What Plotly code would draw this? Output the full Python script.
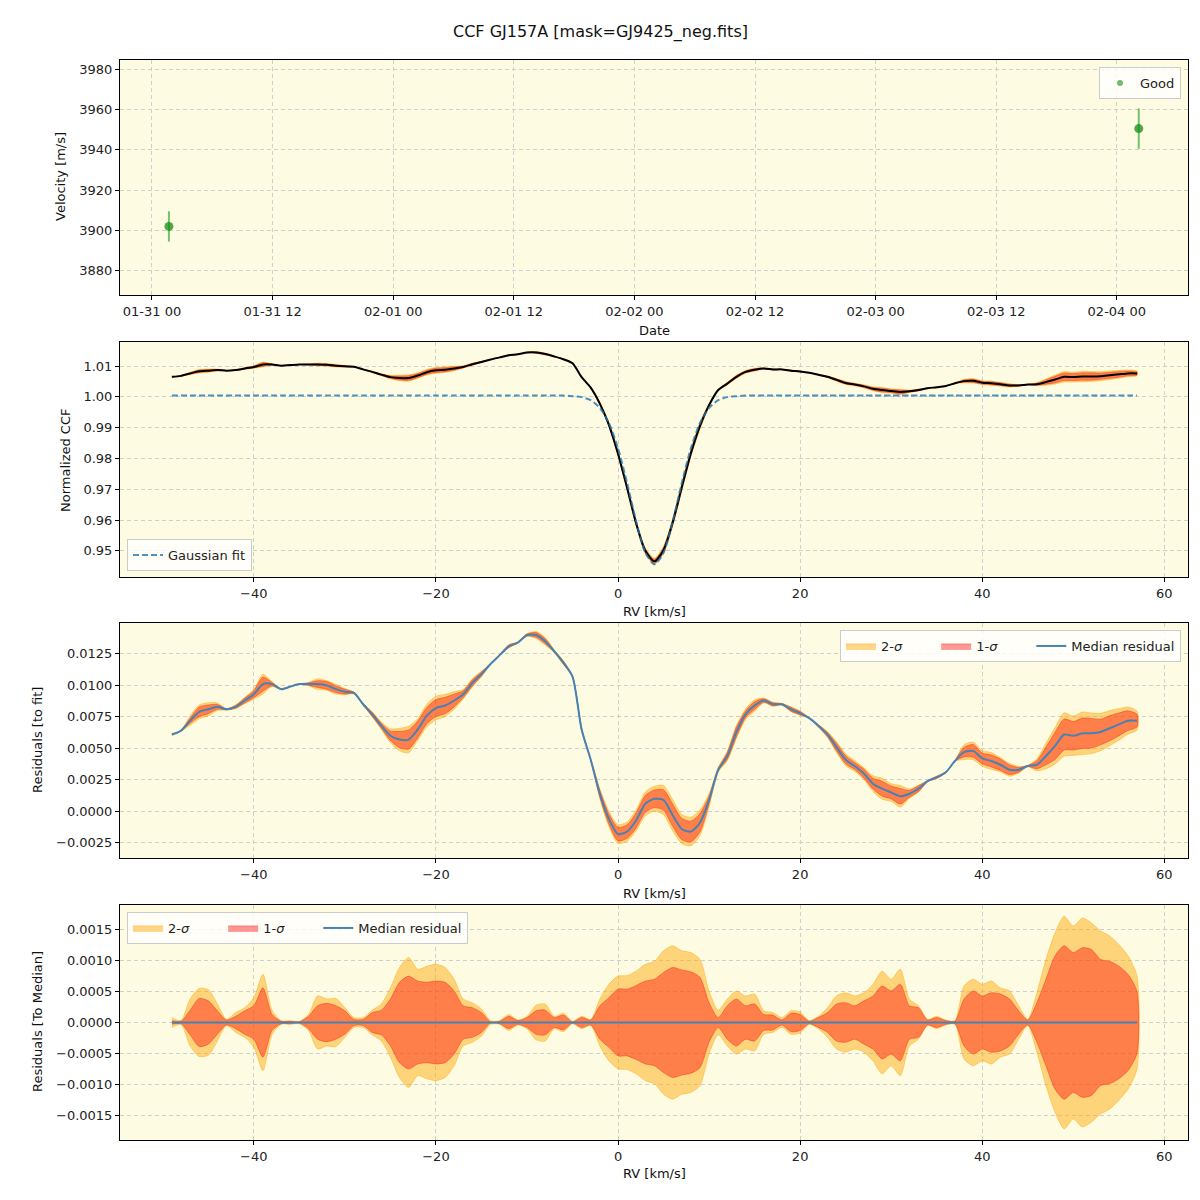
import numpy as np
import plotly.graph_objects as go

# ---------------- data ----------------
obs_dates = ["2023-01-31 01:41", "2023-02-04 02:11"]
obs_rv = [3902.0, 3950.5]
obs_err = [7.5, 10.0]

rv = list(range(-49, 58))

gauss_fit = [1.0004] * 43 + [
    1.0004, 1.0002, 0.9999, 0.9989, 0.9964, 0.9915,   # -6 .. -1
    0.9833, 0.9720, 0.9595, 0.9494, 0.9456, 0.9494,   # 0 .. 5
    0.9595, 0.9720, 0.9833, 0.9915, 0.9964, 0.9989,   # 6 .. 11
    0.9999, 1.0002] + [1.0004] * 44

median_resid = [
    0.0061, 0.0064, 0.0072, 0.0079, 0.0081, 0.0083, 0.0081, 0.0083, 0.0088, 0.0093,   # -49..-40
    0.0101, 0.0101, 0.0097, 0.0099, 0.0101, 0.0101, 0.0101, 0.0100, 0.0097, 0.0095,   # -39..-30
    0.0094, 0.0085, 0.0077, 0.0068, 0.0060, 0.0057, 0.0057, 0.0065, 0.0076, 0.0082,   # -29..-20
    0.0084, 0.0088, 0.0093, 0.0102, 0.0109, 0.0117, 0.0124, 0.0131, 0.0134, 0.0140,   # -19..-10
    0.0140, 0.0135, 0.0127, 0.0118, 0.0107, 0.0065, 0.0041, 0.0014, -0.0006, -0.0018, # -9..0
    -0.0016, -0.0007, 0.0006, 0.0010, 0.0009, -0.0003, -0.0014, -0.0016, -0.0009, 0.0009,  # 1..10
    0.0033, 0.0044, 0.0063, 0.0077, 0.0084, 0.0088, 0.0085, 0.0085, 0.0081, 0.0078,  # 11..20
    0.0074, 0.0068, 0.0061, 0.0051, 0.0041, 0.0036, 0.0030, 0.0022, 0.0018, 0.0015,  # 21..30
    0.0012, 0.0014, 0.0018, 0.0024, 0.0027, 0.0031, 0.0040, 0.0047, 0.0048, 0.0042,  # 31..40
    0.0040, 0.0037, 0.0033, 0.0033, 0.0036, 0.0037, 0.0044, 0.0052, 0.0061, 0.0060,  # 41..50
    0.0062, 0.0062, 0.0063, 0.0066, 0.0069, 0.0072, 0.0072]                          # 51..57

# half-widths of the percentile bands, in units of 1e-4
sigma1_e4 = [
    0.3, 0.2, 2.0, 3.9, 3.5, 1.9, 0.4, 1.0, 1.9, 2.7,
    5.6, 1.3, 0.2, 0.2, 0.1, 1.0, 2.7, 3.1, 2.7, 1.9,
    0.5, 0.5, 1.6, 2.0, 3.8, 6.5, 7.5, 6.7, 6.5, 6.7,
    6.5, 5.1, 2.7, 2.4, 1.6, 0.1, 0.2, 1.0, 0.3, 0.8,
    1.9, 2.0, 0.8, 1.2, 0.1, 0.8, 0.4, 2.7, 4.0, 5.4,
    5.4, 6.0, 6.7, 7.0, 8.1, 8.9, 8.5, 8.2, 7.3, 3.2,
    0.8, 2.7, 3.8, 2.7, 3.0, 1.3, 1.2, 0.4, 1.5, 1.3,
    0.2, 0.8, 1.6, 3.0, 3.2, 2.7, 3.5, 4.3, 5.9, 5.1,
    6.2, 2.7, 2.4, 0.4, 0.8, 0.3, 0.2, 3.8, 5.1, 4.3,
    4.8, 4.6, 3.8, 1.9, 0.4, 3.2, 7.0, 10.8, 12.4, 11.3,
    12.1, 11.8, 10.2, 9.9, 9.1, 7.8, 5.0]
sigma2_e4 = [
    0.8, 0.3, 3.8, 5.5, 5.3, 3.0, 0.5, 1.6, 2.4, 4.0,
    7.8, 2.0, 0.3, 0.3, 0.2, 1.3, 4.3, 3.8, 3.9, 2.4,
    0.8, 0.8, 2.0, 3.0, 5.6, 8.9, 10.5, 8.6, 9.1, 9.4,
    8.9, 7.0, 3.8, 3.2, 2.2, 0.3, 0.3, 1.3, 0.4, 1.0,
    2.8, 3.0, 1.0, 1.5, 0.2, 1.0, 0.5, 3.8, 6.2, 7.5,
    7.6, 8.3, 9.4, 9.9, 11.6, 12.4, 11.6, 11.3, 10.2, 5.1,
    2.0, 3.8, 5.1, 4.3, 4.6, 1.9, 1.6, 0.8, 1.9, 1.7,
    0.3, 1.0, 2.4, 4.3, 4.8, 4.3, 4.8, 6.2, 8.3, 7.0,
    8.6, 3.8, 2.7, 0.5, 1.0, 0.4, 0.3, 5.9, 7.0, 6.2,
    6.7, 5.6, 5.1, 2.7, 0.5, 4.8, 10.2, 14.5, 17.2, 15.6,
    16.9, 16.1, 14.8, 14.0, 12.6, 10.8, 7.5]

# ---------------- derived ----------------
x = np.array(rv, dtype=float)
fit = np.array(gauss_fit)
med = np.array(median_resid)
s1 = np.array(sigma1_e4) * 1e-4
s2 = np.array(sigma2_e4) * 1e-4
ccf = fit + med

BG = "#fdfbe1"
GRID = "#cfcfcf"
C2 = "rgba(255,165,0,0.45)"
C2L = "rgba(255,165,0,0.55)"
C1 = "rgba(255,0,0,0.40)"
C1L = "rgba(240,40,20,0.55)"
MEDC = "#4682b4"
FONT = "DejaVu Sans"
SM = 0.7
PAD = "\u00a0" * 7

fig = go.Figure()


def band(lo, hi, xa, ya, fillc, linec, name=None, legend=None, show=False):
    fig.add_trace(go.Scatter(
        x=np.concatenate([x, x[::-1]]), y=np.concatenate([hi, lo[::-1]]),
        fill="toself", fillcolor=fillc,
        line=dict(color=linec, width=0.8, shape="spline", smoothing=SM),
        mode="lines", xaxis=xa, yaxis=ya, name=name, showlegend=show,
        legend=legend, hoverinfo="skip"))


# Panel 1: velocities
fig.add_trace(go.Scatter(
    x=obs_dates, y=obs_rv, mode="markers",
    marker=dict(color="rgba(20,140,20,0.75)", size=9),
    error_y=dict(type="data", array=obs_err, color="rgba(0,150,0,0.55)",
                 thickness=2, width=0),
    xaxis="x", yaxis="y", showlegend=False))
fig.add_trace(go.Scatter(
    x=[None], y=[None], mode="markers", name="Good",
    marker=dict(color="rgba(0,128,0,0.55)", size=6),
    xaxis="x", yaxis="y", legend="legend", showlegend=True))

# Panel 2: CCF
band(ccf - s2, ccf + s2, "x2", "y2", C2, C2L)
band(ccf - s1, ccf + s1, "x2", "y2", C1, C1L)
fig.add_trace(go.Scatter(x=x, y=ccf, mode="lines",
                         line=dict(color="black", width=2, shape="spline", smoothing=SM),
                         xaxis="x2", yaxis="y2", showlegend=False))
fig.add_trace(go.Scatter(x=x, y=fit, mode="lines", name="Gaussian fit",
                         line=dict(color="rgba(31,119,180,0.8)", width=2, dash="6px,3px",
                                   shape="spline", smoothing=SM),
                         xaxis="x2", yaxis="y2", legend="legend2", showlegend=True))

# Panel 3: residuals to fit
band(med - s2, med + s2, "x3", "y3", C2, C2L, "2-<i>σ</i>" + PAD, "legend3", True)
band(med - s1, med + s1, "x3", "y3", C1, C1L, "1-<i>σ</i>" + PAD, "legend3", True)
fig.add_trace(go.Scatter(x=x, y=med, mode="lines", name="Median residual",
                         line=dict(color=MEDC, width=2, shape="spline", smoothing=SM),
                         xaxis="x3", yaxis="y3", legend="legend3", showlegend=True))

# Panel 4: residuals to median
zero = np.zeros_like(x)
band(-s2, s2, "x4", "y4", C2, C2L, "2-<i>σ</i>" + PAD, "legend4", True)
band(-s1, s1, "x4", "y4", C1, C1L, "1-<i>σ</i>" + PAD, "legend4", True)
fig.add_trace(go.Scatter(x=x, y=zero, mode="lines", name="Median residual",
                         line=dict(color=MEDC, width=2),
                         xaxis="x4", yaxis="y4", legend="legend4", showlegend=True))

H = 1200.0


def dom(top, bottom):
    return [1 - bottom / H, 1 - top / H]


axis_common = dict(showline=True, linecolor="black", linewidth=1, mirror=True,
                   ticks="outside", ticklen=4, tickcolor="black", automargin=False,
                   showgrid=True, gridcolor=GRID, griddash="4px,3px", gridwidth=1,
                   zeroline=False, tickfont=dict(family=FONT, size=13, color="#222"))

xdom = [120 / 1200, 1188 / 1200]
rvrange = [-54.7, 62.6]

legend_common = dict(bgcolor="rgba(255,255,255,0.8)", bordercolor="#cccccc", borderwidth=1,
                     font=dict(family=FONT, size=13, color="#222"), xref="paper", yref="paper")

fig.update_layout(
    width=1200, height=1200,
    margin=dict(l=0, r=0, t=0, b=0, autoexpand=False),
    paper_bgcolor="white", plot_bgcolor=BG,
    font=dict(family=FONT, size=13, color="#222"),
    xaxis=dict(axis_common, domain=xdom, anchor="y", type="date",
               range=["2023-01-30 20:49", "2023-02-04 07:05"],
               tick0="2023-01-31 00:00", dtick=43200000, tickformat="%m-%d %H"),
    yaxis=dict(axis_common, domain=dom(60, 295), anchor="x", range=[3868, 3984.5], dtick=20),
    xaxis2=dict(axis_common, domain=xdom, anchor="y2", range=rvrange, dtick=20, tick0=0),
    yaxis2=dict(axis_common, domain=dom(342, 577), anchor="x2", range=[0.9415, 1.0178],
                dtick=0.01, tickformat=".2f"),
    xaxis3=dict(axis_common, domain=xdom, anchor="y3", range=rvrange, dtick=20, tick0=0),
    yaxis3=dict(axis_common, domain=dom(623, 858), anchor="x3", range=[-0.0037, 0.01495],
                dtick=0.0025, tick0=0, tickformat=".4f"),
    xaxis4=dict(axis_common, domain=xdom, anchor="y4", range=rvrange, dtick=20, tick0=0),
    yaxis4=dict(axis_common, domain=dom(905, 1140), anchor="x4", range=[-0.0019, 0.0019],
                dtick=0.0005, tick0=0, tickformat=".4f"),
    legend=dict(legend_common, x=1181 / 1200, xanchor="right", y=1 - 67 / H, yanchor="top"),
    legend2=dict(legend_common, x=127 / 1200, xanchor="left", y=1 - 571 / H, yanchor="bottom"),
    legend3=dict(legend_common, x=1181 / 1200, xanchor="right", y=1 - 630 / H, yanchor="top",
                 orientation="h"),
    legend4=dict(legend_common, x=127 / 1200, xanchor="left", y=1 - 912 / H, yanchor="top",
                 orientation="h"),
    showlegend=True,
)

annots = [
    ("CCF GJ157A [mask=GJ9425_neg.fits]", 600, 32, 0, 16),
    ("Date", 654, 330, 0, 13),
    ("RV [km/s]", 654, 611, 0, 13),
    ("RV [km/s]", 654, 893, 0, 13),
    ("RV [km/s]", 654, 1173, 0, 13),
    ("Velocity [m/s]", 61, 177, -90, 13),
    ("Normalized CCF", 66, 460, -90, 13),
    ("Residuals [to fit]", 37, 740, -90, 13),
    ("Residuals [To Median]", 37, 1022, -90, 13),
]
for text, px, py, ang, sz in annots:
    fig.add_annotation(text=text, x=px / 1200, y=1 - py / H, xref="paper", yref="paper",
                       showarrow=False, textangle=ang, xanchor="center", yanchor="middle",
                       font=dict(family=FONT, size=sz, color="#111"))

fig.write_html("out.html")
